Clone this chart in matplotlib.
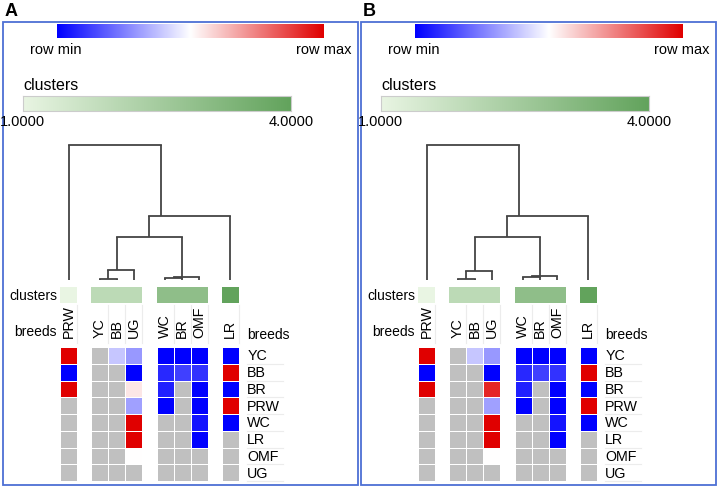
import numpy as np
import matplotlib
matplotlib.use('Agg')
import matplotlib.pyplot as plt
from matplotlib.colors import LinearSegmentedColormap
from matplotlib.patches import Rectangle

plt.rcParams['font.family'] = ['Liberation Sans', 'DejaVu Sans']

W, H = 720, 489

# rows and columns of the heat map
breeds = ['YC', 'BB', 'BR', 'PRW', 'WC', 'LR', 'OMF', 'UG']
columns = ['PRW', 'YC', 'BB', 'UG', 'WC', 'BR', 'OMF', 'LR']
col_groups = [0, 1, 1, 1, 2, 2, 2, 3]
clusters = [1, 2, 2, 2, 3, 3, 3, 4]

nan = np.nan
# row-relative values: -1 = row min (blue), 1 = row max (red), nan = missing (grey)
values_a = [
    [1.0, nan, -0.22, -0.40, -1.0, -1.0, -1.0, -1.0],
    [-1.0, nan, nan, -1.0, -0.84, -0.75, -0.80, 1.0],
    [1.0, nan, nan, 0.10, -0.87, nan, -1.0, -1.0],
    [nan, nan, nan, -0.37, -1.0, nan, -1.0, 1.0],
    [nan, nan, nan, 1.0, nan, nan, -0.92, -1.0],
    [nan, nan, nan, 1.0, nan, nan, -1.0, nan],
    [nan, nan, nan, 0.0, nan, nan, nan, nan],
    [nan, nan, nan, nan, nan, nan, nan, nan],
]
values_b = [
    [1.0, nan, -0.22, -0.40, -1.0, -1.0, -1.0, -1.0],
    [-1.0, nan, nan, -1.0, -0.84, -0.75, -0.80, 1.0],
    [1.0, nan, nan, 0.85, -0.87, nan, -1.0, -1.0],
    [nan, nan, nan, -0.37, -1.0, nan, -1.0, 1.0],
    [nan, nan, nan, 1.0, nan, nan, -0.92, -1.0],
    [nan, nan, nan, 1.0, nan, nan, -1.0, nan],
    [nan, nan, nan, 0.0, nan, nan, nan, nan],
    [nan, nan, nan, nan, nan, nan, nan, nan],
]

# dendrogram merges (left node, right node, height), leaves 0..7 in column order
merges_a = [
    (1, 2, 0.007),
    (8, 3, 0.074),
    (4, 5, 0.015),
    (10, 6, 0.022),
    (9, 11, 0.319),
    (12, 7, 0.474),
    (0, 13, 1.0),
]
merges_b = [
    (1, 2, 0.007),
    (8, 3, 0.067),
    (4, 5, 0.020),
    (10, 6, 0.030),
    (9, 11, 0.319),
    (12, 7, 0.474),
    (0, 13, 1.0),
]

cmap_row = LinearSegmentedColormap.from_list('row', ['#0000ff', '#ffffff', '#e00000'])
cmap_row.set_bad('#c0c0c0')
cmap_cl = LinearSegmentedColormap.from_list('cl', ['#e9f5e3', '#62a35c'])

GAP = 0.84
CELL = 17.0


def add_ax(fig, x0, y0, x1, y1):
    ax = fig.add_axes([x0 / W, 1 - y1 / H, (x1 - x0) / W, (y1 - y0) / H])
    return ax


def fig_text(fig, x, y, s, **kw):
    fig.text(x / W, 1 - y / H, s, **kw)


def draw_panel(fig, ox, values, merges, label):
    fig.add_artist(Rectangle(((ox + 3) / W, 1 - 486 / H), 355 / W, 463 / H,
                             transform=fig.transFigure, fill=False,
                             edgecolor='#4d6fd4', linewidth=1.3))
    fig_text(fig, ox + 5, 11, label, fontsize=13, fontweight='bold', va='center')

    # row min / row max colour bar
    ax = add_ax(fig, ox + 57, 25, ox + 324, 39)
    ax.imshow(np.linspace(0, 1, 256)[None, :], aspect='auto', cmap=cmap_row)
    ax.axis('off')
    fig_text(fig, ox + 56, 50, 'row min', fontsize=10.5, ha='center', va='center')
    fig_text(fig, ox + 324, 50, 'row max', fontsize=10.5, ha='center', va='center')

    # clusters colour bar
    fig_text(fig, ox + 23, 86, 'clusters', fontsize=11.5, ha='left', va='center')
    ax = add_ax(fig, ox + 23, 97, ox + 291, 112)
    ax.imshow(np.linspace(0, 1, 256)[None, :], aspect='auto', cmap=cmap_cl)
    ax.set_xticks([])
    ax.set_yticks([])
    for s in ax.spines.values():
        s.set_color('#cccccc')
    fig_text(fig, ox + 22, 122, '1.0000', fontsize=10.5, ha='center', va='center')
    fig_text(fig, ox + 291, 122, '4.0000', fontsize=10.5, ha='center', va='center')

    ncol = len(columns)
    xl = np.array([i + g * GAP for i, g in enumerate(col_groups)])
    xc = xl + 0.5
    xmax = ncol + GAP * max(col_groups)
    hx0 = ox + 60
    hx1 = hx0 + CELL * xmax

    # dendrogram
    ax = add_ax(fig, hx0, 146, hx1, 281)
    pos = {i: xc[i] for i in range(ncol)}
    leaves = {i: [i] for i in range(ncol)}
    hgt = {i: 0.0 for i in range(ncol)}
    for k, (a, b, h) in enumerate(merges):
        n = ncol + k
        for c in (a, b):
            ax.plot([pos[c], pos[c]], [hgt[c], h], color='#444444', lw=1.3,
                    clip_on=False, solid_capstyle='butt')
        ax.plot([pos[a], pos[b]], [h, h], color='#444444', lw=1.3, clip_on=False)
        leaves[n] = leaves[a] + leaves[b]
        pos[n] = np.mean([xc[i] for i in leaves[n]])
        hgt[n] = h
    ax.set_xlim(0, xmax)
    ax.set_ylim(0, 1)
    ax.axis('off')

    # cluster annotation row
    ax = add_ax(fig, hx0, 288, hx1, 304)
    for i in range(ncol):
        ax.pcolormesh([xl[i], xl[i] + 1], [0, 1], [[clusters[i]]], cmap=cmap_cl,
                      vmin=1, vmax=4)
    ax.set_xlim(0, xmax)
    ax.set_ylim(0, 1)
    ax.axis('off')
    fig_text(fig, ox + 57, 296, 'clusters', fontsize=10, ha='right', va='center')
    fig_text(fig, ox + 57, 332, 'breeds', fontsize=10, ha='right', va='center')

    # heat map
    nrow = len(breeds)
    ax = add_ax(fig, hx0, 348, hx1, 482)
    vals = np.array(values)
    for i in range(ncol):
        col = np.ma.masked_invalid(vals[:, i:i + 1])
        ax.pcolormesh([xl[i], xl[i] + 1], np.arange(nrow + 1), col, cmap=cmap_row,
                      vmin=-1, vmax=1, edgecolors='white', linewidth=0.6)
    ax.set_xlim(0, xmax)
    ax.set_ylim(nrow, 0)
    ax.axis('off')
    for i, name in enumerate(columns):
        ax.text(xc[i], -0.6, name, rotation=90, ha='center', va='bottom', fontsize=10.3)
        ax.plot([xl[i] + 1, xl[i] + 1], [-0.25, -2.5], color='#ececec', lw=0.8,
                clip_on=False)
    for j, name in enumerate(breeds):
        ax.text(xmax + 0.5, j + 0.5, name, ha='left', va='center', fontsize=10.3)
        ax.plot([xmax + 0.5, xmax + 2.6], [j + 1, j + 1], color='#ececec', lw=0.8,
                clip_on=False)
    ax.text(xmax + 0.5, -0.78, 'breeds', ha='left', va='center', fontsize=10)


fig = plt.figure(figsize=(W / 100, H / 100), dpi=100)
draw_panel(fig, 0, values_a, merges_a, 'A')
draw_panel(fig, 358, values_b, merges_b, 'B')
fig.savefig('out.png', dpi=100)
